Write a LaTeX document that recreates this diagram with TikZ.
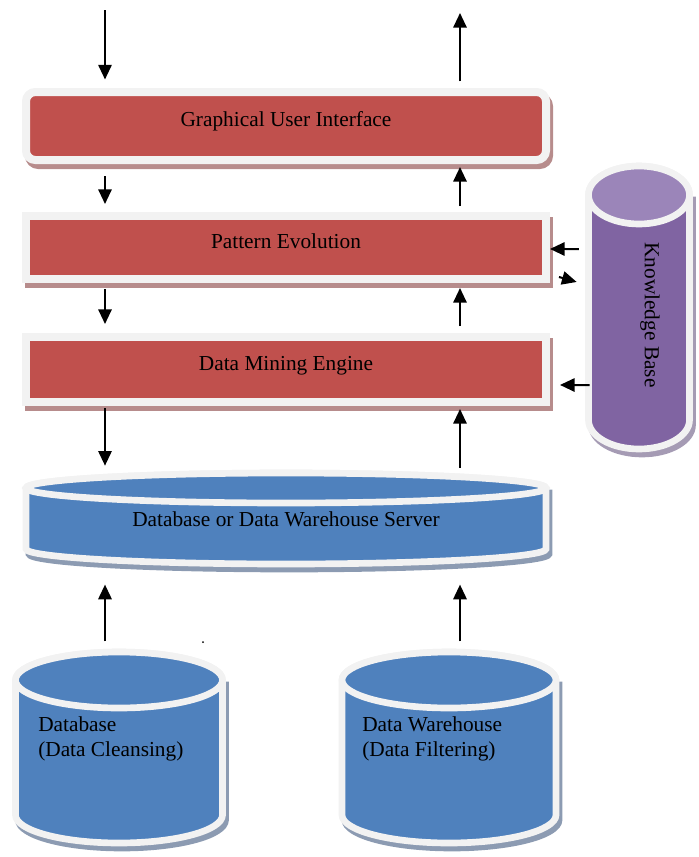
\documentclass[tikz,border=0pt]{standalone}
\usepackage{fontspec}
\setmainfont{Liberation Serif}
\usetikzlibrary{arrows.meta}

\definecolor{guired}{RGB}{192,80,77}
\definecolor{srvblue}{RGB}{79,129,189}
\definecolor{kbpurple}{RGB}{128,100,162}
\definecolor{kbtop}{RGB}{155,133,185}
\definecolor{rimgray}{RGB}{242,242,242}
\definecolor{redshadow}{RGB}{183,140,140}
\definecolor{blueshadow}{RGB}{140,155,178}
\definecolor{kbshadow}{RGB}{165,155,180}

% drum: centre x, top ellipse y, bottom ellipse y, x radius, y radius, body, top, shadow
\newcommand{\drumshape}[8]{%
	\filldraw[#8,line width=5pt,shift={(3,5)}] (#1-#4,#2) -- (#1-#4,#3) arc[start angle=180,end angle=0,x radius=#4,y radius=#5] -- (#1+#4,#2) -- cycle;
	\filldraw[fill=#6,draw=rimgray,line width=5pt] (#1-#4,#2) -- (#1-#4,#3) arc[start angle=180,end angle=0,x radius=#4,y radius=#5] -- (#1+#4,#2) arc[start angle=0,end angle=-180,x radius=#4,y radius=#5] -- cycle;
	\filldraw[fill=#7,draw=rimgray,line width=5pt] (#1,#2) ellipse[x radius=#4,y radius=#5];
}

\begin{document}
\begin{tikzpicture}[x=0.75pt,y=-0.75pt,
		font=\fontsize{16}{18.5}\selectfont,
		tier/.style={rectangle,fill=guired,draw=rimgray,line width=6pt,minimum width=390pt,inner sep=0pt,
			text height=11pt,text depth=10pt,
			preaction={fill=redshadow,draw=redshadow,transform canvas={shift={(2.25pt,-3.75pt)}}}},
		drumframe/.style={inner sep=0pt},
		flow/.style={-{Triangle[length=11pt,width=10pt]},line width=1.5pt}]
	
	\useasboundingbox (0,0) rectangle (699,857);
	
	% cylinders
	\drumshape{286}{488}{549}{260}{15}{srvblue}{srvblue}{blueshadow}
	\drumshape{639}{195}{420}{50.5}{29}{kbpurple}{kbtop}{kbshadow}
	\drumshape{119}{680}{815}{103.5}{28}{srvblue}{srvblue}{blueshadow}
	\drumshape{449}{680}{815}{107}{28}{srvblue}{srvblue}{blueshadow}
	
	% layers
	\node[tier,rounded corners=7pt,minimum height=51pt] (gui) at (286,126) {Graphical User Interface};
	\node[tier,minimum height=47.25pt] (pattern) at (286,247.5) {Pattern Evolution};
	\node[tier,minimum height=48.75pt] (mining) at (286,369.5) {Data Mining Engine};
	
	\node[drumframe,minimum width=396pt,minimum height=71pt] (server) at (286,519) {Database or Data Warehouse Server};
	\node[drumframe,minimum width=80pt,minimum height=215pt] (kbdrum) at (638.5,306.5) {};
	\node[rotate=-90] (kbase) at (650,315) {Knowledge Base};
	
	\node[drumframe,minimum width=160.5pt,minimum height=143pt] (dbdrum) at (119,749) {};
	\node[drumframe,minimum width=165.75pt,minimum height=143pt] (dwdrum) at (449,749) {};
	\node[anchor=west,align=left,inner sep=0pt] (db) at (38,739) {Database\\(Data Cleansing)};
	\node[anchor=west,align=left,inner sep=0pt] (dw) at (362,739) {Data Warehouse\\(Data Filtering)};
	
	\coordinate (colL) at (105,0);
	\coordinate (colR) at (460,0);
	\coordinate (query) at (105,10);
	\coordinate (answer) at (460,13);
	
	% arrows
	\draw[flow,shorten >=6.4pt] (query) -- (gui.north -| colL);
	\draw[flow,shorten <=5pt] (gui.north -| colR) -- (answer);
	\draw[flow,shorten <=9pt,shorten >=6pt] (gui.south -| colL) -- (pattern.north -| colL);
	\draw[flow,shorten <=4.5pt,shorten >=2.25pt] (pattern.north -| colR) -- (gui.south -| colR);
	\draw[flow,shorten <=4.5pt,shorten >=6.75pt] (pattern.south -| colL) -- (mining.north -| colL);
	\draw[flow,shorten <=5.25pt,shorten >=3.75pt] (mining.north -| colR) -- (pattern.south -| colR);
	\draw[flow,shorten <=1.5pt,shorten >=4.3pt] (mining.south -| colL) -- (server.north -| colL);
	\draw[flow,shorten <=2.8pt,shorten >=2.25pt] (server.north -| colR) -- (mining.south -| colR);
	\draw[flow,shorten <=9pt,shorten >=13.5pt] (dbdrum.north -| colL) -- (server.south -| colL);
	\draw[flow,shorten <=9pt,shorten >=13.5pt] (dwdrum.north -| colR) -- (server.south -| colR);
	
	\draw[flow,shorten <=4.6pt] ([yshift=43.1pt]kbdrum.west) -- ([yshift=-1.1pt]pattern.east);
	\draw[flow] ([xshift=6.75pt,yshift=4.5pt]pattern.south east) -- ([xshift=-6.2pt,yshift=18.4pt]kbdrum.west);
	\draw[flow] ([xshift=3.6pt,yshift=-58.9pt]kbdrum.west) -- ([xshift=7.5pt,yshift=-11.6pt]mining.east);
	
	\fill (203,642) circle (1);
	
\end{tikzpicture}
\end{document}
